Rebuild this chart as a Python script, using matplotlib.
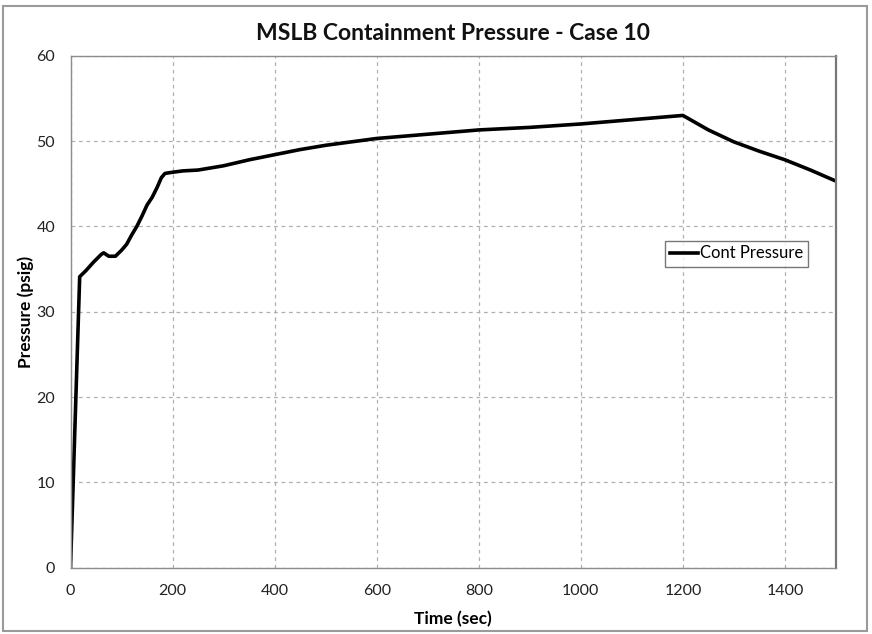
import matplotlib
matplotlib.use("Agg")
import matplotlib.pyplot as plt
from matplotlib.patches import Rectangle

# Containment pressure transient
time_sec = [0, 18, 30, 45, 60, 65, 75, 88, 100, 110, 120, 130, 140, 150, 160,
            170, 178, 185, 195, 220, 250, 300, 350, 400, 450, 500, 600, 700,
            800, 900, 1000, 1100, 1200, 1250, 1300, 1350, 1400, 1450, 1500]
pressure_psig = [0, 34.1, 34.8, 35.8, 36.7, 36.9, 36.5, 36.5, 37.2, 37.9, 39.0,
                 40.0, 41.2, 42.5, 43.4, 44.6, 45.7, 46.2, 46.3, 46.5, 46.6,
                 47.1, 47.8, 48.4, 49.0, 49.5, 50.3, 50.8, 51.3, 51.6, 52.0,
                 52.5, 53.0, 51.3, 49.9, 48.8, 47.8, 46.6, 45.3]

series_label = "Cont Pressure"
title = "MSLB Containment Pressure - Case 10"
x_label = "Time (sec)"
y_label = "Pressure (psig)"
x_ticks = [0, 200, 400, 600, 800, 1000, 1200, 1400]
y_ticks = [0, 10, 20, 30, 40, 50, 60]

plt.rcParams["font.family"] = ["Lato", "DejaVu Sans"]

fig = plt.figure(figsize=(8.72, 6.34), dpi=100)
W, H = 872, 634
ax = fig.add_axes([70.5 / W, (H - 567.7) / H, (836 - 70.5) / W, (567.7 - 55.7) / H])

ax.plot(time_sec, pressure_psig, color="black", linewidth=2.6,
        solid_joinstyle="round", label=series_label)

ax.set_xlim(0, 1500)
ax.set_ylim(0, 60)
ax.set_xticks(x_ticks)
ax.set_yticks(y_ticks)
ax.tick_params(axis="x", length=0, labelsize=11.5, colors="#222222", pad=12)
ax.tick_params(axis="y", length=0, labelsize=11.5, colors="#222222", pad=11)
ax.grid(True, color="#b0b0b0", linestyle=(0, (3, 3)), linewidth=0.9)
ax.set_axisbelow(True)
for side, sp in ax.spines.items():
    sp.set_color("#8c8c8c")
    sp.set_linewidth(1.0)
ax.spines["right"].set_linewidth(1.6)
ax.spines["right"].set_color("#777777")

ax.set_title(title, fontsize=16.5, fontweight="bold", pad=11, color="#111111")
ax.set_xlabel(x_label, fontsize=12.5, fontweight="bold", labelpad=9)
ax.set_ylabel(y_label, fontsize=12.5, fontweight="bold", labelpad=2)

leg = ax.legend(loc="center left", bbox_to_anchor=((665 - 70.5) / (836 - 70.5), (567.7 - 253.5) / 512),
                frameon=True, fancybox=False, fontsize=12, handlelength=1.7,
                handletextpad=0.1, borderpad=0.3, borderaxespad=0)
leg.get_frame().set_edgecolor("#555555")
leg.get_frame().set_linewidth(1.0)

# Chart area border
fig.patches.append(Rectangle((3 / W, (H - 631) / H), 864 / W, 625 / H,
                             transform=fig.transFigure, fill=False,
                             edgecolor="#9a9a9a", linewidth=1.5))

fig.savefig("out.png", dpi=100, facecolor="white")
